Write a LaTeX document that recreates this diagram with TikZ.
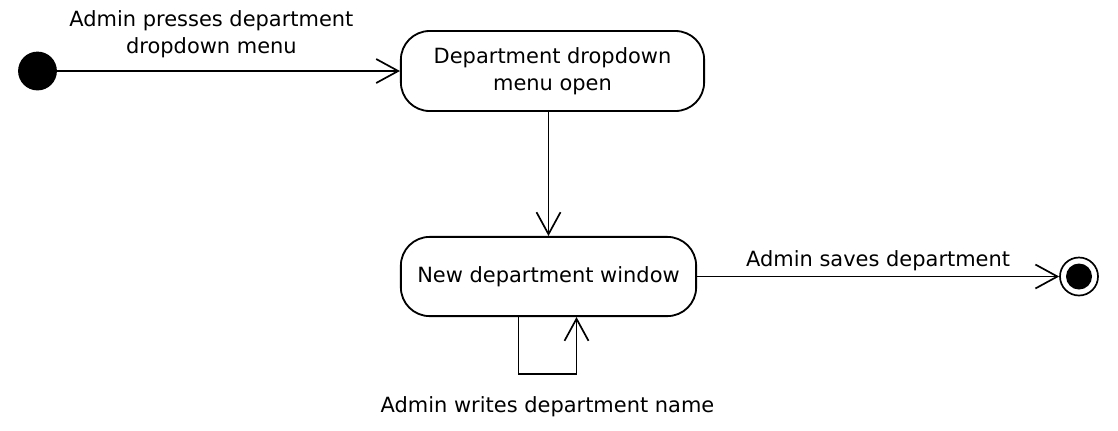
\documentclass[tikz,border=0pt]{standalone}
\usepackage{fontspec}
\setmainfont{DejaVu Sans}
\usetikzlibrary{shapes.geometric, arrows.meta}
\tikzstyle{arrow} = [line width=1.2pt,-{Straight Barb[length=0.55cm,width=0.6cm]}]

\begin{document}
\begin{tikzpicture}
        [
            x=0.025cm, y=-0.025cm,
            every node/.style={font=\fontsize{14.9}{19.5}\selectfont},
            state/.style={rectangle,rounded corners=0.72cm,draw=black,line width=1.3pt,align=center},
            startstate/.style={circle,fill=black,minimum size=0.97cm,inner sep=0pt},
            endstate/.style={circle,draw=black,line width=1.2pt,minimum size=0.95cm,inner sep=0pt},
            enddot/.style={circle,fill=black,minimum size=0.65cm,inner sep=0pt},
            lbl/.style={inner sep=0pt,align=center},
        ]
    \useasboundingbox (0,0) rectangle (1118,430);

    \node [startstate] (start) at (37.5,71){};
    \node [state,minimum width=7.58cm,minimum height=2cm] (menu) at (552.5,71){Department dropdown\\menu open};
    \node [state,minimum width=7.38cm,minimum height=1.98cm] (window) at (548.5,276.5){New department window};
    \node [endstate] (stop) at (1079,276.5){};
    \node [enddot] (stopdot) at (1079,276.5){};

    \draw[arrow] (start) -- node[lbl,above=0.3cm,pos=0.45] (presses) {Admin presses department\\dropdown menu} (menu);
    \draw[arrow] (menu.south -| window.north) -- (window.north);
    \draw[arrow] (window) -- node[lbl,above=0.11cm] (saves) {Admin saves department} (stop);
    \draw[arrow] (window.south) ++(-30,0) -- ++(0,57) -- node[lbl,below=0.53cm] (writes) {Admin writes department name} ++(58,0) -- ++(0,-57);
    \end{tikzpicture}
\end{document}
